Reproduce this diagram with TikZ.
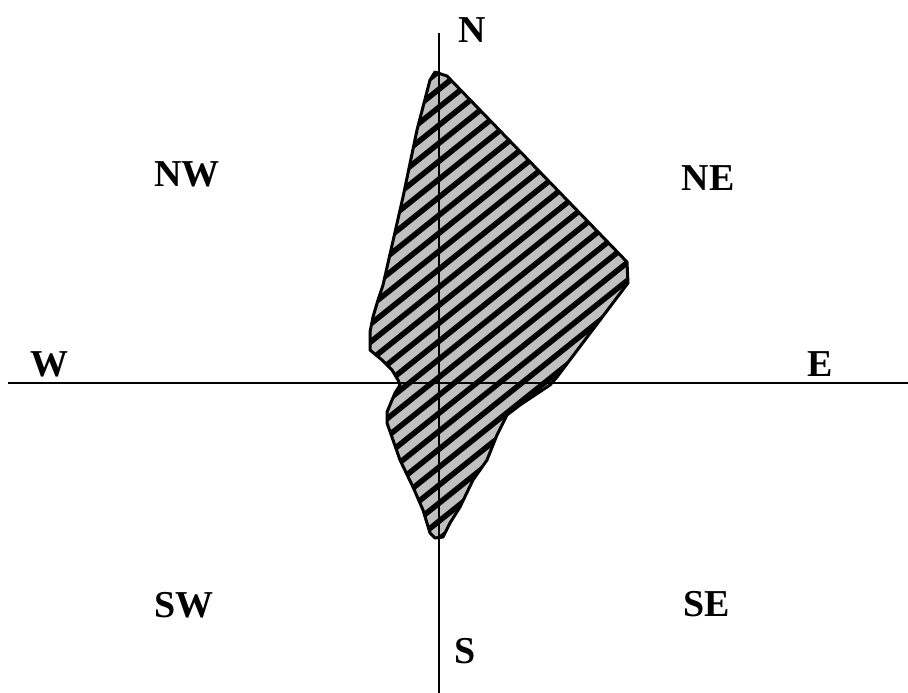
\documentclass[tikz,border=0pt]{standalone}
\usepackage{fontspec}
\setmainfont{Liberation Serif}
\usepackage{xcolor}
\usetikzlibrary{positioning}
\definecolor{rosegray}{RGB}{192,192,192}

\begin{document}
\begin{tikzpicture}[x=1pt,y=-1pt,
 lbl/.style={font=\fontsize{38}{40}\selectfont\bfseries,inner sep=0pt},
 axis/.style={line width=2.2pt},
 hatch/.style={line width=5.5pt}]
\useasboundingbox (0,0) rectangle (908,693);
% outline of the rose, in picture pixels
\def\rose{(435,72) -- (447,76) -- (627,262) -- (628,283) -- (557,377) -- (550,385)
 -- (520,405) -- (507,415) -- (497,435) -- (487,460) -- (473,480) -- (460,507)
 -- (450,523) -- (443,537) -- (435,538) -- (430,533) -- (423,510) -- (413,487)
 -- (400,460) -- (393,440) -- (387,423) -- (387,412) -- (395,393) -- (400,385)
 -- (398,380) -- (392,370) -- (382,360) -- (370,350) -- (370,332) -- (373,317)
 -- (378,300) -- (383,285) -- (403,197) -- (417,130) -- (430,80) -- cycle}
\fill[rosegray] \rose;
\begin{scope}
 \clip \rose;
 \foreach \c in {0,18,...,760}
  \draw[hatch] (340,\c+0.8*98) -- (660,\c-0.8*222);
\end{scope}
\draw[line width=3pt,line join=round] \rose;
% axes
\coordinate (top) at (439,33);
\coordinate (bot) at (439,693);
\coordinate (left) at (8,383);
\coordinate (right) at (908,383);
\draw[axis] (top) -- (bot);
\draw[axis] (left) -- (right);
% direction labels
\node[lbl] (n) at (472,30) {N};
\node[lbl] (s) at (465,651) {S};
\node[lbl] (w) at (49,364) {W};
\node[lbl] (e) at (820,364) {E};
\node[lbl] (nw) at (187,174) {NW};
\node[lbl] (ne) at (708,178) {NE};
\node[lbl] (sw) at (184,605) {SW};
\node[lbl] (se) at (707,604) {SE};
\end{tikzpicture}
\end{document}
